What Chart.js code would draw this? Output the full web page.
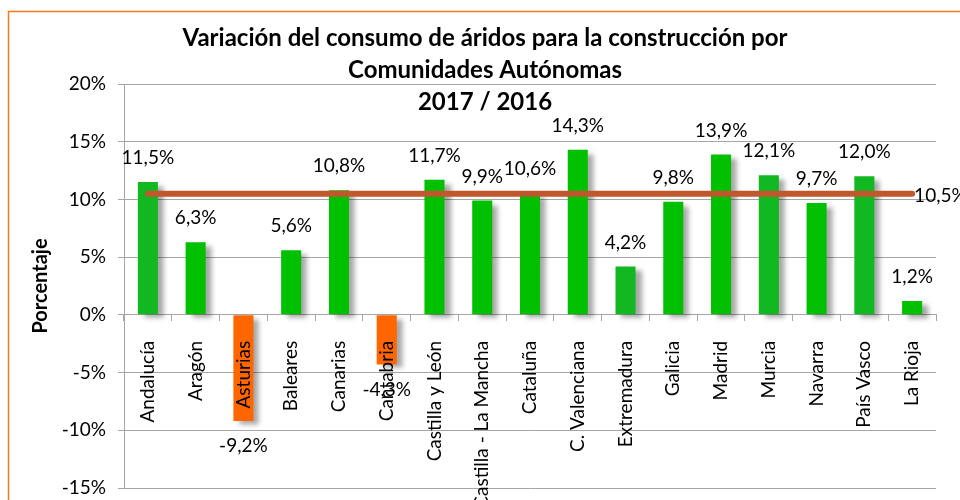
<!DOCTYPE html>
<html>
<head>
<meta charset="utf-8">
<script src="https://cdn.jsdelivr.net/npm/chart.js@4/dist/chart.umd.min.js"></script>
<style>
  body { margin: 0; background: #fff; }
  #wrap { width: 960px; height: 500px; position: relative; }
</style>
</head>
<body>
<div id="wrap"><canvas id="myChart"></canvas></div>
<script>
const regions = [
    'Andalucía', 'Aragón', 'Asturias', 'Baleares', 'Canarias', 'Cantabria',
    'Castilla y León', 'Castilla - La Mancha', 'Cataluña', 'C. Valenciana',
    'Extremadura', 'Galicia', 'Madrid', 'Murcia', 'Navarra', 'País Vasco', 'La Rioja'
];
const variation = [11.5, 6.3, -9.2, 5.6, 10.8, -4.3, 11.7, 9.9, 10.6, 14.3, 4.2, 9.8, 13.9, 12.1, 9.7, 12.0, 1.2];
const average = [10.5, 10.5, 10.5, 10.5, 10.5, 10.5, 10.5, 10.5, 10.5, 10.5, 10.5, 10.5, 10.5, 10.5, 10.5, 10.5, 10.5];
const yTicks = [-15, -10, -5, 0, 5, 10, 15, 20];
const titleLines = ['Variación del consumo de áridos para la construcción por', 'Comunidades Autónomas', '2017 / 2016'];

const FONT = 'Lato, "Open Sans", sans-serif';
const fmt = v => v.toFixed(1).replace('.', ',') + '%';

// bar shadow
const shadowPlugin = {
    id: 'barShadow',
    beforeDatasetDraw(chart, args) {
        if (args.index !== 0) return;
        const ctx = chart.ctx;
        ctx.save();
        ctx.shadowColor = 'rgba(0,0,0,0.35)';
        ctx.shadowOffsetX = 6;
        ctx.shadowOffsetY = 4;
        ctx.shadowBlur = 5;
    },
    afterDatasetDraw(chart, args) {
        if (args.index !== 0) return;
        chart.ctx.restore();
    }
};

// value labels, title and frame
const labelsPlugin = {
    id: 'labels',
    beforeDraw(chart) {
        const ctx = chart.ctx;
        ctx.save();
        ctx.fillStyle = '#fff';
        ctx.fillRect(0, 0, chart.width, chart.height);
        ctx.strokeStyle = '#F47B20';
        ctx.lineWidth = 1.5;
        ctx.strokeRect(8.5, 11.5, 1000, 600);
        ctx.restore();
    },
    afterDraw(chart) {
        const ctx = chart.ctx;
        ctx.save();
        ctx.fillStyle = '#000';
        ctx.font = '19px ' + FONT;
        ctx.textAlign = 'center';
        ctx.textBaseline = 'middle';
        const bars = chart.getDatasetMeta(0).data;
        bars.forEach((bar, i) => {
            const v = variation[i];
            const y = v >= 0 ? bar.y - 24 : bar.y + 25;
            ctx.fillText(fmt(v), bar.x, y);
        });
        const pts = chart.getDatasetMeta(1).data;
        const last = pts[pts.length - 1];
        ctx.textAlign = 'left';
        ctx.fillText(fmt(average[average.length - 1]), last.x + 2, last.y + 2);

        ctx.font = 'bold 24px ' + FONT;
        ctx.textAlign = 'center';
        titleLines.forEach((t, i) => ctx.fillText(t, 485, 38 + i * 32));
        ctx.restore();
    }
};

const data = {
    labels: regions,
    datasets: [{
        type: 'bar',
        label: 'Variación',
        data: variation,
        backgroundColor: variation.map((v, i) => v < 0 ? '#FF6600' : ([0, 10, 13, 15].includes(i) ? '#12B822' : '#00C000')),
        barPercentage: 0.42,
        categoryPercentage: 1,
        order: 1
    }, {
        type: 'line',
        label: 'Media',
        data: average,
        borderColor: '#C0582D',
        borderWidth: 6,
        borderCapStyle: 'round',
        pointRadius: 0,
        fill: false,
        order: 0
    }]
};

const config = {
    data: data,
    options: {
        responsive: true,
        maintainAspectRatio: false,
        animation: false,
        layout: { padding: { top: 84, right: 24, bottom: 12, left: 0 } },
        plugins: {
            legend: { display: false },
            tooltip: { enabled: false },
            title: { display: false }
        },
        scales: {
            y: {
                min: -15,
                max: 20,
                afterFit(scale) {
                    scale.width = 124;
                    scale.paddingTop = 0;
                    scale.paddingBottom = 0;
                },
                afterBuildTicks(scale) { scale.ticks = yTicks.map(v => ({ value: v })); },
                ticks: {
                    color: '#000',
                    font: { family: FONT, size: 19 },
                    padding: 12,
                    callback: v => v + '%'
                },
                grid: { color: '#A6A6A6', tickLength: 6 },
                border: { color: '#A6A6A6' },
                title: {
                    display: true,
                    text: 'Porcentaje',
                    color: '#000',
                    font: { family: FONT, size: 20, weight: 'bold' },
                    padding: { top: 29, bottom: 0 }
                }
            },
            x: {
                type: 'category',
                position: { y: 0 },
                offset: true,
                afterFit(scale) {
                    scale.height = 0;
                    scale.paddingLeft = 0;
                    scale.paddingRight = 0;
                },
                ticks: {
                    color: '#000',
                    font: { family: FONT, size: 19 },
                    minRotation: 90,
                    maxRotation: 90,
                    autoSkip: false,
                    padding: 20,
                    z: 1
                },
                grid: { display: true, offset: true, drawOnChartArea: false, color: '#A6A6A6', tickLength: 6 },
                border: { color: '#A6A6A6' }
            }
        }
    },
    plugins: [shadowPlugin, labelsPlugin]
};

new Chart(document.getElementById('myChart'), config);
</script>
</body>
</html>
